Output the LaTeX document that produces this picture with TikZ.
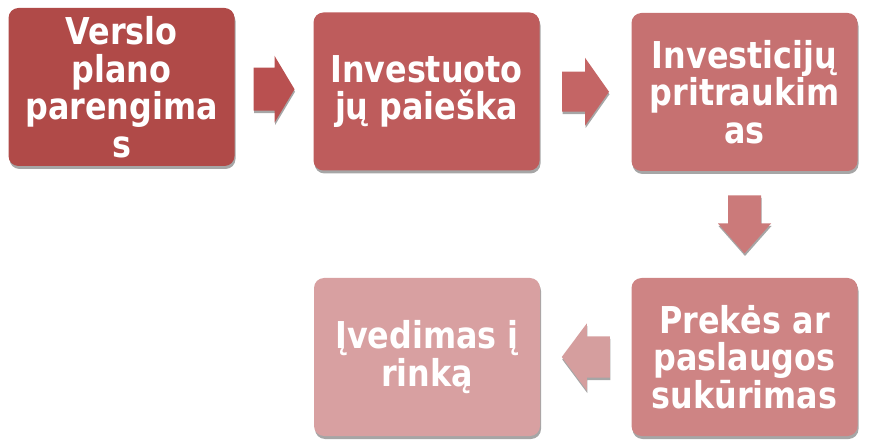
\documentclass[tikz,border=0pt]{standalone}
\usepackage{fontspec}
\setmainfont{DejaVu Sans}
\newfontfamily\boxfont{DejaVu Sans Bold}[FakeStretch=0.86]
\usetikzlibrary{calc,shadows}
\definecolor{c1}{RGB}{176,74,72}
\definecolor{c2}{RGB}{190,92,92}
\definecolor{c3}{RGB}{198,113,113}
\definecolor{c5}{RGB}{206,132,132}
\definecolor{c4}{RGB}{216,160,161}
\definecolor{ca1}{RGB}{185,80,80}
\definecolor{ca2}{RGB}{196,101,101}
\definecolor{ca3}{RGB}{203,122,122}
\definecolor{ca4}{RGB}{213,158,158}
\begin{document}
\begin{tikzpicture}[x=1pt,y=-1pt,
  box/.style={rounded corners=10pt, minimum width=226pt, minimum height=158pt,
    inner sep=0pt, align=center, text=white,
    font=\boxfont\fontsize{37}{37.5}\selectfont,
    drop shadow={shadow xshift=1pt, shadow yshift=-3pt, fill=black!35, opacity=1}},
  blockarrow/.style={drop shadow={shadow xshift=0.5pt, shadow yshift=-2.5pt, fill=black!35, opacity=1}}]
\useasboundingbox (0,0) rectangle (891,443);

\node[box, fill=c1] (v1) at (121.5,87) {Verslo\\plano\\parengima\\s};
\node[box, fill=c2] (v2) at (426.5,91.5) {Investuoto\\jų paieška};
\node[box, fill=c3] (v3) at (744.5,92) {Investicijų\\pritraukim\\as};
\node[box, fill=c5] (v5) at (744.5,357) {Prekės ar\\paslaugos\\sukūrimas};
\node[box, fill=c4] (v4) at (427,357) {Įvedimas į\\rinką};

\coordinate (a1) at ($(v1.east)!0.5!(v2.west)$);
\coordinate (a2) at ($(v2.east)!0.5!(v3.west)$);
\coordinate (a3) at ($(v3.south)!0.5!(v5.north)$);
\coordinate (a4) at ($(v5.west)!0.5!(v4.east)$);

% right arrow 1
\fill[blockarrow, fill=ca1] (a1) ++(-20.5,-21.5) -- ++(21,0) -- ++(0,-12) -- ++(20,33.5)
  -- ++(-20,33.5) -- ++(0,-12) -- ++(-21,0) -- cycle;
% right arrow 2
\fill[blockarrow, fill=ca2] (a2) ++(-23.5,-20) -- ++(23,0) -- ++(0,-14) -- ++(24,34)
  -- ++(-24,34) -- ++(0,-14) -- ++(-23,0) -- cycle;
% down arrow
\fill[blockarrow, fill=ca3] (a3) ++(-16.5,-29) -- ++(33,0) -- ++(0,28) -- ++(10,0)
  -- ++(-26.5,30) -- ++(-26.5,-30) -- ++(10,0) -- cycle;
% left arrow
\fill[blockarrow, fill=ca4] (a4) ++(24,-20.5) -- ++(0,41) -- ++(-23,0) -- ++(0,13)
  -- ++(-25,-33.5) -- ++(25,-33.5) -- ++(0,13) -- cycle;
\end{tikzpicture}
\end{document}
